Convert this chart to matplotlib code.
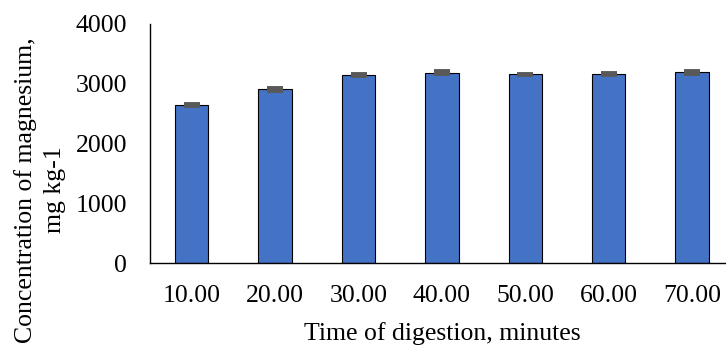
import matplotlib
matplotlib.use("Agg")
import matplotlib.pyplot as plt
import numpy as np

categories = ["10.00", "20.00", "30.00", "40.00", "50.00", "60.00", "70.00"]
values = [2640, 2900, 3140, 3180, 3150, 3160, 3185]
errors = [20, 20, 20, 20, 15, 20, 20]
yticks = [0, 1000, 2000, 3000, 4000]

plt.rcParams['font.family'] = ['Liberation Serif', 'DejaVu Serif']

W, H = 726, 345
fig = plt.figure(figsize=(W / 100, H / 100), dpi=100)
ax_left, ax_bottom_px, ax_top_px = 150, 263.3, 23.5
ax_w_px = 7 * 83.4
ax = fig.add_axes([ax_left / W, 1 - ax_bottom_px / H, ax_w_px / W, (ax_bottom_px - ax_top_px) / H])

x = np.arange(len(categories))
ax.bar(x, values, width=0.4, color='#4472C4', edgecolor='black', linewidth=0.8, zorder=2)
ax.errorbar(x, values, yerr=errors, fmt='none', ecolor='#595959', elinewidth=1.2,
            capsize=6, capthick=2.8, zorder=3)

ax.set_xlim(-0.5, len(categories) - 0.5)
ax.set_ylim(0, 4000)
ax.set_yticks(yticks)
ax.set_yticklabels([str(v) for v in yticks])
ax.set_xticks(x)
ax.set_xticklabels(categories)
ax.tick_params(axis='both', length=0, labelsize=18.5)
ax.tick_params(axis='y', pad=16.5)
ax.tick_params(axis='x', pad=15.5)
for s in ['top', 'right']:
    ax.spines[s].set_visible(False)
for s in ['left', 'bottom']:
    ax.spines[s].set_color('black')
    ax.spines[s].set_linewidth(1.0)

cx = (ax_left + ax_w_px / 2) / W
fig.text(cx, 1 - 340 / H, "Time of digestion, minutes", ha='center', va='baseline', fontsize=18.5)
fig.text(32 / W, 1 - 190 / H, "Concentration of magnesium,", rotation=90, rotation_mode='anchor',
         ha='center', va='baseline', fontsize=18.5)
fig.text(61 / W, 1 - 190 / H, "mg kg-1", rotation=90, rotation_mode='anchor',
         ha='center', va='baseline', fontsize=18.5)

fig.savefig("out.png", dpi=100)
